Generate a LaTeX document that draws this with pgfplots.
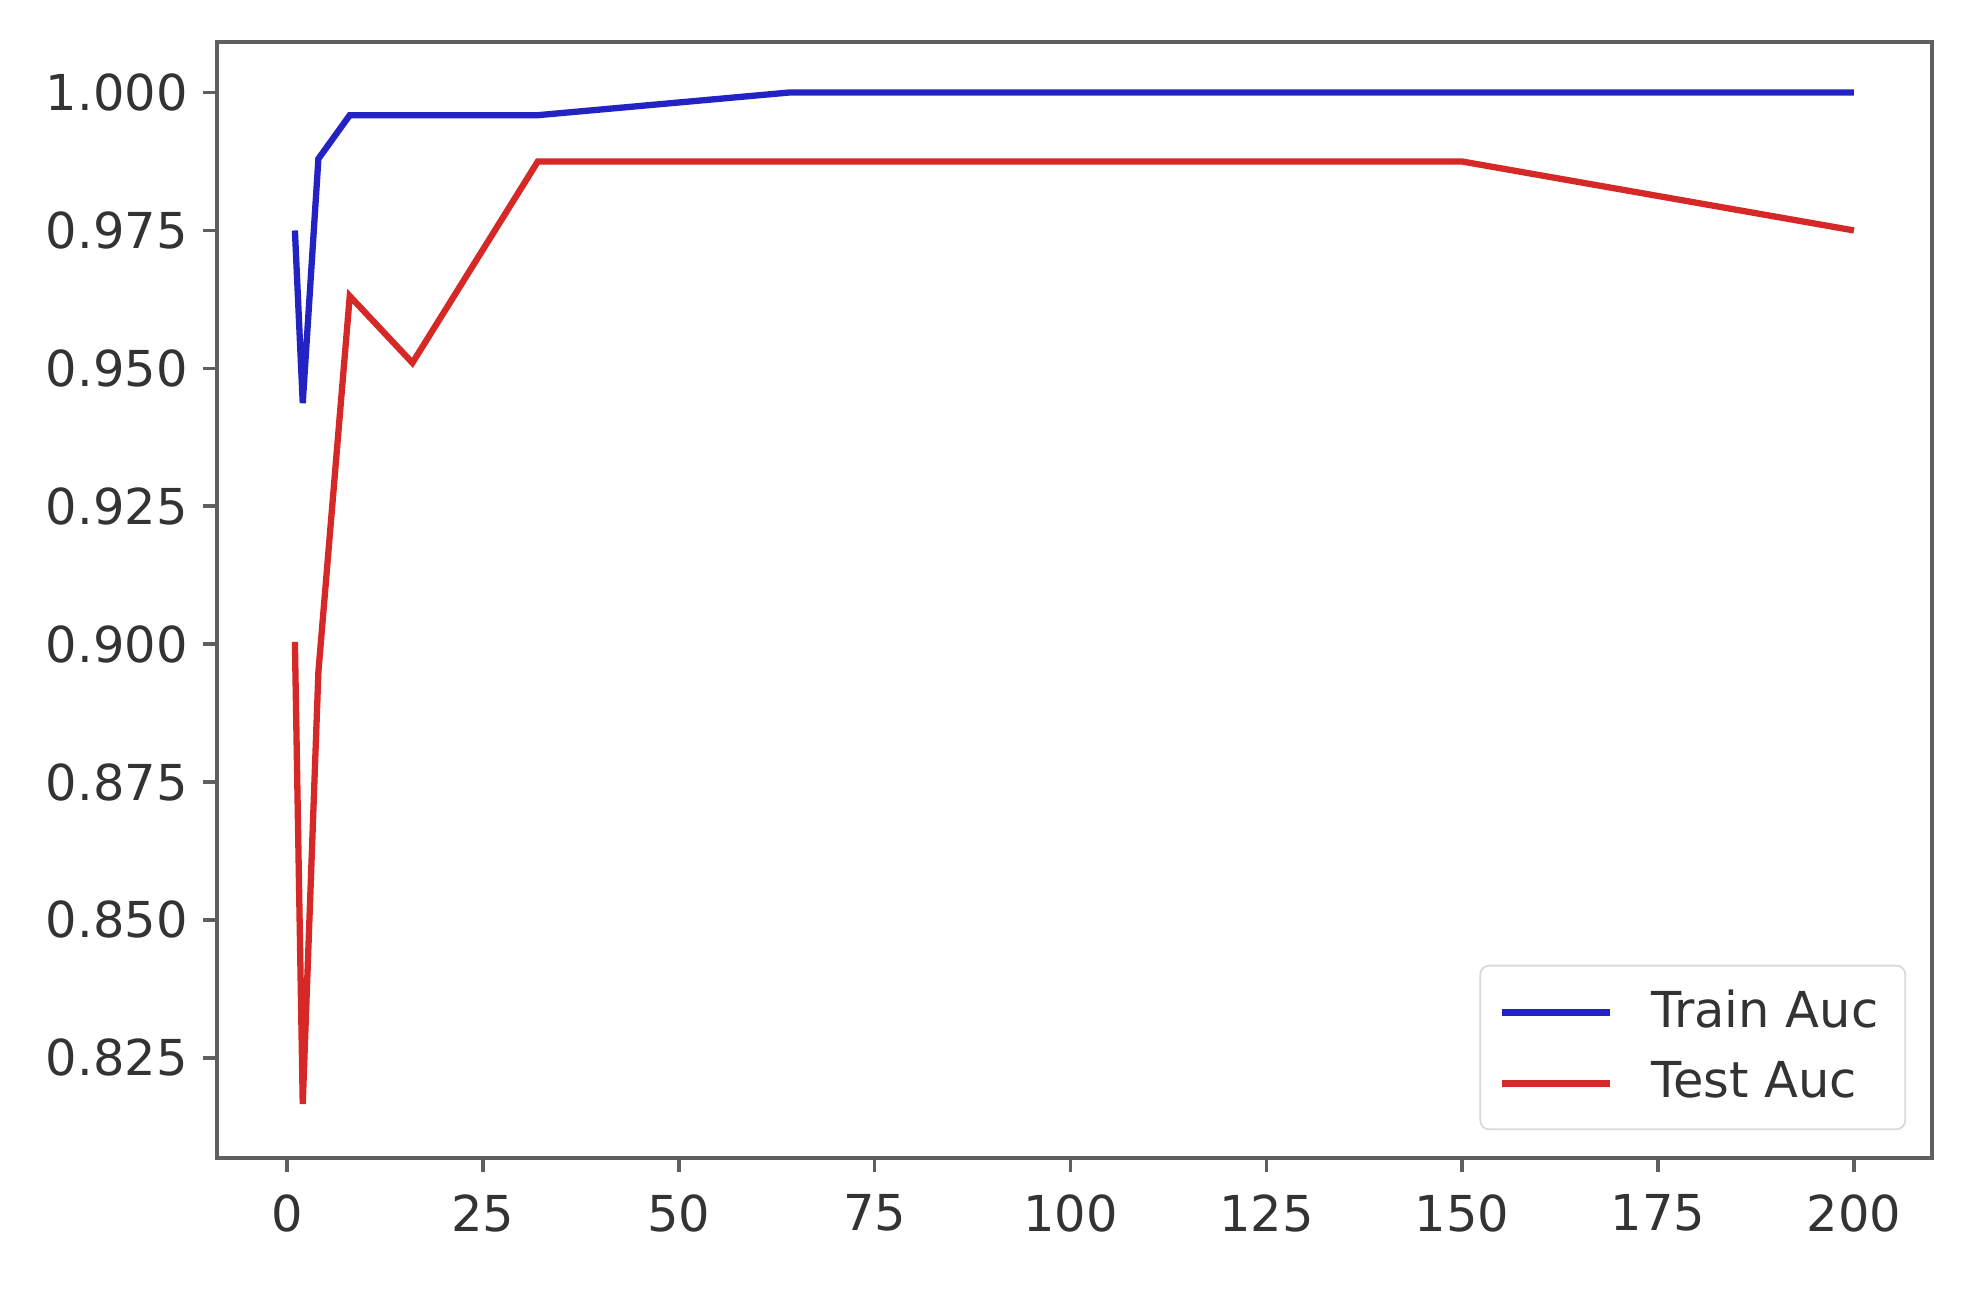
\documentclass[border=0pt]{standalone}
\usepackage{pgfplots}
\pgfplotsset{compat=1.18}
\usepackage{fontspec}
\setmainfont{DejaVu Sans}
\definecolor{trainblue}{RGB}{35,35,195}
\definecolor{testred}{RGB}{215,40,40}
\definecolor{axisgray}{RGB}{95,95,95}
\begin{document}
\begin{tikzpicture}
\begin{axis}[
  scale only axis,
  width=381pt, height=248pt,
  xmin=-8.95, xmax=209.95,
  ymin=0.8068, ymax=1.0092,
  xtick={0,25,50,75,100,125,150,175,200},
  ytick={0.825,0.850,0.875,0.900,0.925,0.950,0.975,1.000},
  yticklabel style={/pgf/number format/.cd, fixed, fixed zerofill, precision=3},
  xticklabel style={yshift=-1.5pt},
  /pgf/number format/assume math mode=true,
  tick pos=left,
  tick align=outside,
  major tick length=3pt,
  tick style={axisgray, line width=0.8pt},
  axis line style={axisgray, line width=1pt},
  ticklabel style={font=\fontsize{11}{13}\selectfont, text=black!80},
  legend style={at={(0.985,0.025)}, anchor=south east, draw=black!15,
    rounded corners=2pt, font=\fontsize{11}{13}\selectfont, text=black!80,
    inner xsep=4pt, inner ysep=3.5pt, row sep=2pt,
    /tikz/every odd column/.append style={column sep=6.5pt}},
  legend cell align=left,
  legend image code/.code={\draw[#1, line width=1.5pt] (0pt,0pt) -- (24pt,0pt);},
]
\addplot[trainblue, line width=1.4pt] coordinates {
  (1,0.975) (2,0.9437) (4,0.988) (8,0.9959) (16,0.9959) (32,0.9959)
  (64,1.000) (100,1.000) (150,1.000) (200,1.000)
};
\addlegendentry{Train Auc}
\addplot[testred, line width=1.4pt] coordinates {
  (1,0.9004) (2,0.8166) (4,0.895) (8,0.9631) (16,0.951) (32,0.9875)
  (64,0.9875) (100,0.9875) (150,0.9875) (200,0.975)
};
\addlegendentry{Test Auc}
\end{axis}
\path[use as bounding box] (current axis.south west) ++(-48.2pt,-29.5pt)
  rectangle ([xshift=9.8pt,yshift=9.3pt]current axis.north east);
\end{tikzpicture}
\end{document}
